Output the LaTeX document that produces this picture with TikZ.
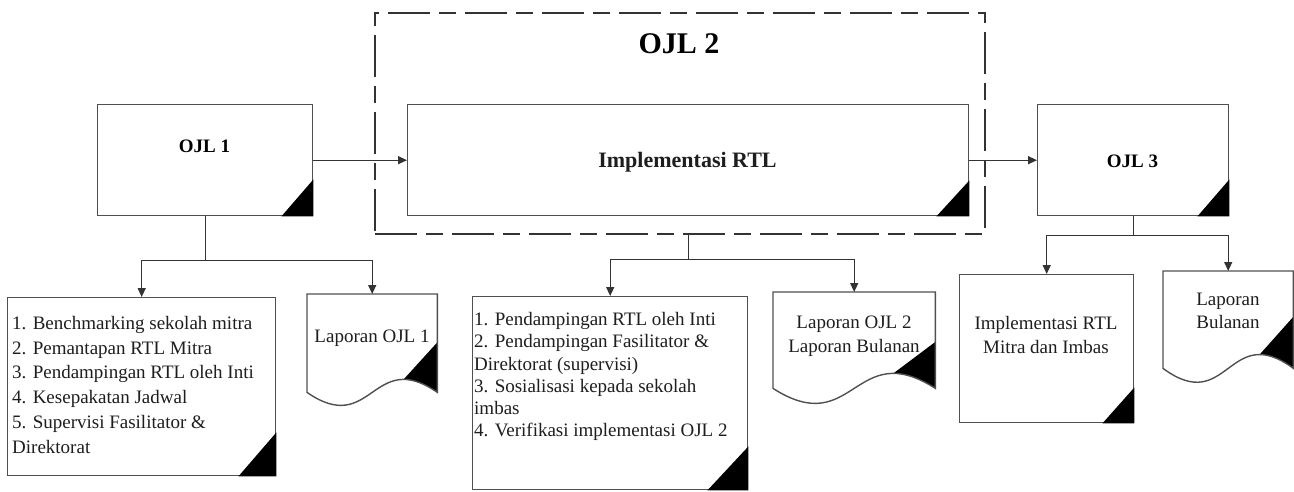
\documentclass[tikz,border=0pt]{standalone}
\usepackage{fontspec}
\setmainfont{Liberation Serif}
\usetikzlibrary{arrows.meta,calc}
\definecolor{edge}{HTML}{505050}
\definecolor{wire}{HTML}{333333}
\definecolor{ink}{HTML}{1E1E1E}
\newcommand\cornerfill[3]{\fill[black] (#1.south east) -- ++(-#2,0) -- ($(#1.south east)+(0,-#3)$) -- cycle;}
\newcommand\docshape[3]{%
  \fill[white] (#1.north west) -- (#1.north east) -- (#1.south east) .. controls ($(#1.south)+(0,-#2)$) and ($(#1.south)+(0,#2)$) .. (#1.south west) -- cycle;
  \coordinate (#1-crest) at ($(#1.south west)!0.741!(#1.south east)+(0,-0.289*#2)$);
  \begin{scope}
    \clip (#1.north west) -- (#1.north east) -- (#1.south east) .. controls ($(#1.south)+(0,-#2)$) and ($(#1.south)+(0,#2)$) .. (#1.south west) -- cycle;
    \fill[black] let \p1=(#1-crest), \p2=(#1.south east) in ({\x1-40pt},{\y1-40pt*#3}) -- (\x2,{\y1+(\x2-\x1)*#3}) -- (\x2,{\y2-80pt}) -- cycle;
  \end{scope}
  \draw[edge, line width=1.4pt, line join=miter] (#1.north west) -- (#1.north east) -- (#1.south east) .. controls ($(#1.south)+(0,-#2)$) and ($(#1.south)+(0,#2)$) .. (#1.south west) -- cycle;
}
\begin{document}
\begin{tikzpicture}[x=1pt,y=-1pt,
  box/.style={draw=edge, line width=1.4pt, fill=white, inner sep=0pt, anchor=north west},
  docnode/.style={draw=none, inner sep=0pt, anchor=north west},
  dashbox/.style={draw=wire, line width=2.2pt, dash pattern=on 42pt off 9pt on 17pt off 9pt, inner sep=0pt, anchor=north west},
  conn/.style={draw=wire, line width=1.3pt},
  arr/.style={conn, -{Triangle[length=9pt,width=8pt]}},
  txt/.style={inner sep=0pt, text=ink, font=\fontsize{19}{23}\selectfont},
  btxt/.style={inner sep=0pt, text=black, font=\bfseries\fontsize{19}{23}\selectfont}]
\useasboundingbox (0,0) rectangle (1294,492);
\fill[white] (0,0) rectangle (1294,492);

% group frame
\node[dashbox, minimum width=610, minimum height=221] (ojl2) at (374,12) {};
\node[inner sep=0pt, text=black, font=\bfseries\fontsize{30}{34}\selectfont] (ojl2t) at (679,44) {OJL 2};

% top row
\node[box, minimum width=215, minimum height=111] (ojl1) at (97,104) {};
\node[box, minimum width=561, minimum height=111] (impl) at (407,104) {};
\node[box, minimum width=191, minimum height=111] (ojl3) at (1037,104) {};
\cornerfill{ojl1}{32}{37}
\cornerfill{impl}{33}{36}
\cornerfill{ojl3}{32}{37}
\node[btxt] (ojl1t) at (204.5,146) {OJL 1};
\node[inner sep=0pt, text=ink, font=\bfseries\fontsize{22}{26}\selectfont] (implt) at (687.5,162) {Implementasi RTL};
\node[btxt] (ojl3t) at (1132.5,161) {OJL 3};

% bottom row boxes
\node[box, minimum width=268, minimum height=178] (list1) at (7,297) {};
\node[box, minimum width=275, minimum height=193] (list2) at (472,296) {};
\node[box, minimum width=174, minimum height=148] (mitra) at (959,274) {};
\cornerfill{list1}{38}{44}
\cornerfill{list2}{41}{44}
\cornerfill{mitra}{32}{36}

% documents
\node[docnode, minimum width=130, minimum height=98] (d1) at (307,294) {};
\node[docnode, minimum width=162, minimum height=96] (d2) at (773,292) {};
\node[docnode, minimum width=130, minimum height=97] (d3) at (1163,271) {};
\docshape{d1}{45}{1.1}
\docshape{d2}{52}{0.75}
\docshape{d3}{48}{1.12}

% texts
\node[txt, align=left, anchor=north west, font=\fontsize{19}{24.8}\selectfont] (list1t) at (12,316) {1. Benchmarking sekolah mitra\\2. Pemantapan RTL Mitra\\3. Pendampingan RTL oleh Inti\\4. Kesepakatan Jadwal\\5. Supervisi Fasilitator \&\\Direktorat};
\node[txt, align=left, anchor=north west, font=\fontsize{19}{22.2}\selectfont] (list2t) at (474,312.3) {1. Pendampingan RTL oleh Inti\\2. Pendampingan Fasilitator \&\\Direktorat (supervisi)\\3. Sosialisasi kepada sekolah\\imbas\\4. Verifikasi implementasi OJL 2};
\node[txt, align=center, anchor=north, font=\fontsize{19}{24}\selectfont] (mitrat) at (1046,316.3) {Implementasi RTL\\Mitra dan Imbas};
\node[txt] (d1t) at (372,338) {Laporan OJL 1};
\node[txt, align=center, anchor=north, font=\fontsize{19}{24}\selectfont] (d2t) at (854,315.3) {Laporan OJL 2\\Laporan Bulanan};
\node[txt, align=center, anchor=north, font=\fontsize{19}{23}\selectfont] (d3t) at (1228,293.3) {Laporan\\Bulanan};

% connectors
\draw[arr] (ojl1.east) -- (impl.west);
\draw[arr] (impl.east) -- (ojl3.west);

\draw[conn] (ojl1.south) -- ++(0,44) coordinate (j1);
\draw[arr] (j1) -| (list1.north);
\draw[arr] (j1) -| (d1.north);

\draw[conn] (impl.south |- ojl2.south) -- ++(0,24) coordinate (j2);
\draw[arr] (j2) -| (list2.north);
\draw[arr] (j2) -| (d2.north);

\draw[conn] (ojl3.south) -- ++(0,19) coordinate (j3);
\draw[arr] (j3) -| (mitra.north);
\draw[arr] (j3) -| (d3.north);
\end{tikzpicture}
\end{document}
